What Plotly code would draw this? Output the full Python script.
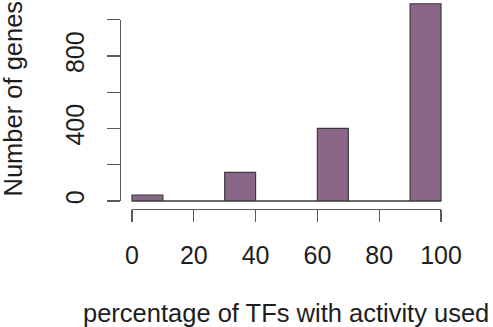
import plotly.graph_objects as go

# Data
bin_left = [0, 10, 20, 30, 40, 50, 60, 70, 80, 90]
bin_width = 10
counts = [33, 0, 0, 158, 0, 0, 401, 0, 0, 1088]
x_ticks = [0, 20, 40, 60, 80, 100]
y_ticks = [0, 200, 400, 600, 800, 1000]
y_ticklabels = ["0", "", "400", "", "800", ""]
x_title = "percentage of TFs with activity used"
y_title = "Number of genes"

W, H = 493, 327
OFF = 0  # body margin is removed below
FONT = "Liberation Sans, Arial, Helvetica, sans-serif"
FS_TICK = 25
FS_TITLE = 25.5
BAR = "#8a6688"
EDGE = "#3a3a3a"
AX = "#5a5a5a"
TXT = "#1e1e1e"

# target pixel geometry on the page (R-style plot region)
x0_px, x100_px = 132.0 - OFF, 441.0 - OFF
px_per_x = (x100_px - x0_px) / 100.0
y0_px, y1000_px = 201.0 - OFF, 19.7 - OFF
px_per_y = (y0_px - y1000_px) / 1000.0

xr = [-4, 104]
xl_px = x0_px + xr[0] * px_per_x
xr_px = x0_px + xr[1] * px_per_x
yb = -43.6
yb_px = y0_px - yb * px_per_y
yt = y0_px / px_per_y  # value at top of figure

fig = go.Figure()
fig.add_trace(go.Bar(
    x=[b + bin_width / 2 for b in bin_left], y=counts, width=bin_width,
    marker=dict(color=BAR, line=dict(color=EDGE, width=1.2)),
    xaxis="x", yaxis="y", showlegend=False, hoverinfo="skip",
))
# baseline of empty bins (R draws zero-height rectangles)
fig.add_trace(go.Scatter(
    x=[bin_left[0], bin_left[-1] + bin_width], y=[0, 0], mode="lines",
    line=dict(color=EDGE, width=1.2), xaxis="x", yaxis="y",
    showlegend=False, hoverinfo="skip",
))
# decorative R-style axes
fig.add_trace(go.Scatter(x=[x_ticks[0], x_ticks[-1]], y=[y_ticks[0], y_ticks[-1]],
                         mode="markers", marker=dict(opacity=0), xaxis="x2", yaxis="y2",
                         showlegend=False, hoverinfo="skip"))

fig.update_layout(
    template="none",
    width=W, height=H, margin=dict(l=0, r=0, t=0, b=0, autoexpand=False),
    paper_bgcolor="white", plot_bgcolor="rgba(0,0,0,0)",
    bargap=0, hovermode=False,
    font=dict(family=FONT, color=TXT, size=FS_TICK),
    xaxis=dict(domain=[xl_px / W, xr_px / W], range=xr, visible=False, fixedrange=True,
               automargin=False),
    yaxis=dict(domain=[1 - yb_px / H, 1], range=[yb, yt], visible=False, fixedrange=True,
               automargin=False),
    xaxis2=dict(domain=[x0_px / W, x100_px / W], range=[x_ticks[0], x_ticks[-1]],
                anchor="free", position=1 - yb_px / H, automargin=False, fixedrange=True,
                showline=True, linecolor=AX, linewidth=1.3,
                ticks="outside", ticklen=12, tickwidth=1.3, tickcolor=AX,
                tickvals=x_ticks, ticktext=[str(v) for v in x_ticks],
                showgrid=False, zeroline=False, ticklabelstandoff=12,
                tickfont=dict(size=FS_TICK, family=FONT, color=TXT)),
    yaxis2=dict(domain=[1 - y0_px / H, 1 - y1000_px / H], range=[y_ticks[0], y_ticks[-1]],
                anchor="free", position=xl_px / W, automargin=False, fixedrange=True,
                showline=True, linecolor=AX, linewidth=1.3,
                ticks="outside", ticklen=13, tickwidth=1.3, tickcolor=AX,
                tickvals=y_ticks, ticktext=y_ticklabels, tickangle=-90,
                showgrid=False, zeroline=False, ticklabelstandoff=13,
                tickfont=dict(size=FS_TICK, family=FONT, color=TXT)),
    annotations=[
        dict(text=x_title, xref="paper", yref="paper",
             x=(285.5 - OFF) / W, y=1 - (313 - OFF) / H, xanchor="center", yanchor="middle",
             showarrow=False, font=dict(size=FS_TITLE, family=FONT, color=TXT)),
        dict(text=y_title, xref="paper", yref="paper",
             x=(12 - OFF) / W, y=1 - (98.5 - OFF) / H, xanchor="center", yanchor="middle",
             textangle=-90,
             showarrow=False, font=dict(size=FS_TITLE, family=FONT, color=TXT)),
    ],
)
fig.write_html("out.html", config=dict(displayModeBar=False, staticPlot=True),
               post_script="document.body.style.margin='0';document.body.style.overflow='hidden';")
